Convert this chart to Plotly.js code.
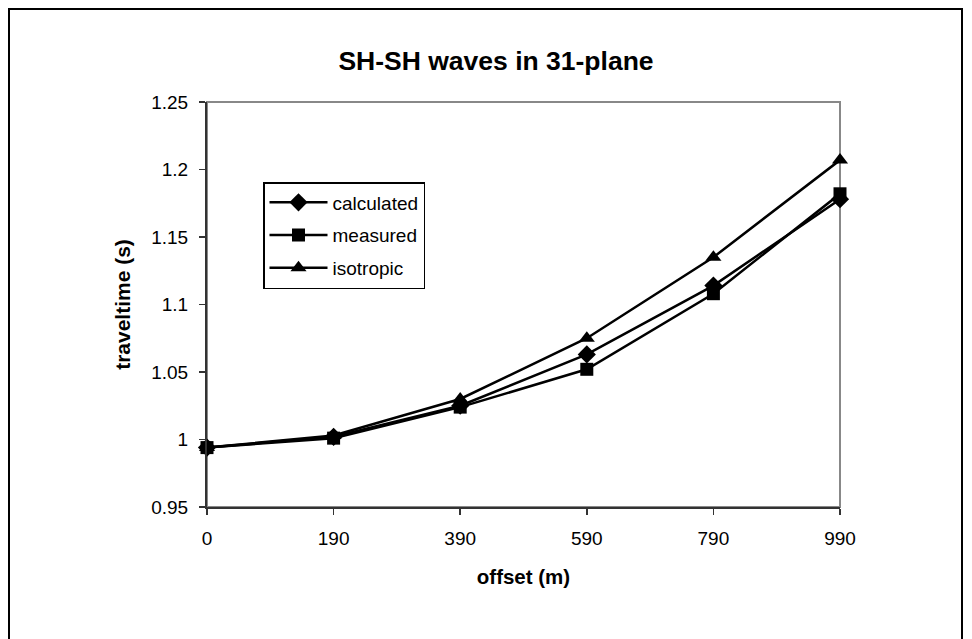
<!DOCTYPE html>
<html>
<head>
<meta charset="utf-8">
<script src="https://cdn.plot.ly/plotly-3.0.1.min.js"></script>
<style>html,body{margin:0;padding:0;background:#fff}#chart{width:972px;height:639px}</style>
</head>
<body>
<div id="chart"></div>
<script>
const offsets = ["0", "190", "390", "590", "790", "990"];
const calculated = [0.994, 1.002, 1.025, 1.063, 1.114, 1.178];
const measured = [0.994, 1.001, 1.024, 1.052, 1.108, 1.182];
const isotropic = [0.994, 1.003, 1.030, 1.075, 1.135, 1.207];
const yTickVals = [0.95, 1, 1.05, 1.1, 1.15, 1.2, 1.25];
const yTickText = ["0.95", "1", "1.05", "1.1", "1.15", "1.2", "1.25"];

const font = "Liberation Sans, Arial, sans-serif";
function tr(name, y, sym, size, grp) {
  return {
    x: offsets, y: y, name: name, type: "scatter", mode: "lines+markers",
    line: {color: "#000", width: 2.5},
    marker: {symbol: sym, size: size, color: "#000"},
    legendgroup: grp, cliponaxis: false
  };
}
const data = [
  tr("calculated", calculated, "diamond", 14, "a"),
  tr("measured", measured, "square", 13, "b"),
  tr("isotropic", isotropic, "triangle-up", 14, "c")
];

const L = 207, R = 840, T = 102, B = 507, W = 972, H = 639;
const pw = R - L, ph = B - T;
const px = v => (v - L) / pw;
const py = v => (B - v) / ph;

const layout = {
  width: W, height: H,
  margin: {l: L, r: W - R, t: T, b: H - B, pad: 0},
  paper_bgcolor: "#fff", plot_bgcolor: "#fff",
  font: {family: font, size: 19, color: "#000"},
  title: {text: "<b>SH-SH waves in 31-plane</b>", font: {family: font, size: 26.5, color: "#000"},
    x: 496 / W, xref: "container", xanchor: "center", y: 1 - 61 / H, yref: "container", yanchor: "middle"},
  xaxis: {
    type: "category", range: [0, 5], showgrid: false, zeroline: false,
    showline: true, linecolor: "#333", linewidth: 2,
    ticks: "outside", ticklen: 6, tickcolor: "#333", tickwidth: 1.5,
    tickfont: {family: font, size: 19, color: "#000"}, ticklabelstandoff: 7,
    title: {text: "<b>offset (m)</b>", font: {family: font, size: 20.5, color: "#000"}, standoff: 22}
  },
  yaxis: {
    range: [0.95, 1.25], showgrid: false, zeroline: false,
    tickvals: yTickVals, ticktext: yTickText,
    showline: true, linecolor: "#333", linewidth: 2,
    ticks: "outside", ticklen: 6, tickcolor: "#333", tickwidth: 1.5,
    tickfont: {family: font, size: 19, color: "#000"}, ticklabelstandoff: 7,
    title: {text: "<b>traveltime (s)</b>", font: {family: font, size: 21, color: "#000"}, standoff: 15}
  },
  showlegend: true,
  legend: {
    x: px(263), y: py(182), xanchor: "left", yanchor: "top",
    bgcolor: "#fff", bordercolor: "#000", borderwidth: 1.5,
    font: {family: font, size: 19, color: "#000"},
    itemwidth: 58, tracegroupgap: 5, traceorder: "grouped"
  },
  shapes: [
    {type: "rect", xref: "paper", yref: "paper", x0: 0, x1: 1, y0: 0, y1: 1,
     line: {color: "#888", width: 2}, layer: "below"},
    {type: "rect", xref: "paper", yref: "paper", x0: px(9), x1: px(962), y0: py(660), y1: py(9),
     line: {color: "#000", width: 2}, layer: "below"}
  ]
};

Plotly.newPlot("chart", data, layout, {displayModeBar: false, staticPlot: true});
</script>
</body>
</html>
